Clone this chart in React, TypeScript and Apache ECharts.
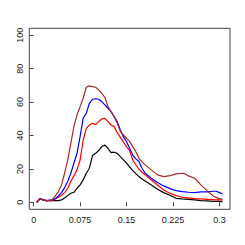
import React, { useEffect, useRef } from "react";
import * as echarts from "echarts";

const xValues = [0.005,0.01,0.015,0.02,0.03,0.035,0.04,0.045,0.05,0.055,0.06,0.065,0.07,0.075,0.08,0.085,0.09,0.095,0.1,0.105,0.11,0.115,0.12,0.125,0.13,0.135,0.14,0.145,0.15,0.155,0.16,0.165,0.17,0.175,0.18,0.19,0.2,0.21,0.22,0.23,0.24,0.245,0.25,0.26,0.27,0.28,0.29,0.295,0.3,0.305];

const blackValues = [0,2,1.4,1,1,1,1,1.4,2.6,4,5.4,6,8.4,10.4,13.4,17.4,20.4,28,29.3,31,33.3,34.3,32.3,29.7,30,29.3,27.3,25.4,23.4,21.2,19,17.2,15.4,14,12.8,10.4,7.8,5.8,4.2,2.4,2,1.9,1.8,1.4,1,0.8,0.6,0.6,0.6,0.4];

const redValues = [0,2,1.6,1,1,2,3,4.2,5.8,8.4,12.4,15.8,19.4,25.3,37.3,44.3,46.3,47.3,46.5,48.3,50,50.3,48.3,46.3,45.3,41.7,38.9,36,33.3,31,25.3,22.5,19.8,18,16.4,13.4,10.4,7.4,5.4,4,3,2.8,2.6,2.2,2,1.8,1.6,1.5,1.4,1.4];

const blueValues = [0,2,1.6,1,1.4,2.2,3.8,5.8,8.8,12.4,17.4,23.4,29.3,39.3,50.3,53.3,59.3,61.7,62,61.7,60.3,58.3,56.3,54.3,51.3,48.3,43.3,39.3,36.3,32.3,28.3,26,24.4,20.4,17.4,14.4,11.8,9.8,8.2,7,6.4,6.2,6,5.8,6.2,6.2,6.6,6.6,5.8,5];

const brownValues = [0,2.4,1.6,1,1.4,3.8,6.4,10.4,17.4,25.3,35.3,45.3,52.3,57.3,62.3,68.9,69.7,69.3,68.9,67.3,65.3,62.9,57.3,54.3,51.3,47.3,42.3,40.3,38.3,36.3,33.3,30.3,26.3,24.2,22.4,19.4,16.4,15.4,16,17,17.4,17,15.8,14.4,10.4,7,3.8,2.8,2.2,1.8];

const xTicks = [0, 0.075, 0.15, 0.225, 0.3];
const yTicks = [0, 20, 40, 60, 80, 100];

const seriesDefs = [
  { name: "black", color: "#000000", values: blackValues },
  { name: "red", color: "#FF0000", values: redValues },
  { name: "blue", color: "#0000FF", values: blueValues },
  { name: "brown", color: "#A52A2A", values: brownValues },
];

export default function App() {
  const ref = useRef<HTMLDivElement>(null);
  useEffect(() => {
    document.body.style.margin = "0";
    if (!ref.current) return;
    const chart = echarts.init(ref.current, undefined, { renderer: "svg" });
    const font = "'Liberation Sans', Arial, Helvetica, sans-serif";
    chart.setOption({
      animation: false,
      grid: {
        left: 29.3,
        top: 28.3,
        right: 15,
        bottom: 35.7,
        show: true,
        borderColor: "#444",
        borderWidth: 1,
      },
      xAxis: {
        type: "value",
        min: -0.007,
        max: 0.317,
        axisLine: { show: false },
        splitLine: { show: false },
        axisTick: { show: true, customValues: xTicks, length: 4, lineStyle: { color: "#444" } },
        axisLabel: {
          customValues: xTicks,
          formatter: (v: number) => String(v),
          fontSize: 9,
          fontFamily: font,
          color: "#222",
          margin: 6,
        },
      },
      yAxis: {
        type: "value",
        min: -4.2,
        max: 104.2,
        axisLine: { show: false },
        splitLine: { show: false },
        axisTick: { show: true, customValues: yTicks, length: 4, lineStyle: { color: "#444" } },
        axisLabel: {
          customValues: yTicks,
          rotate: 90,
          fontSize: 9,
          fontFamily: font,
          color: "#222",
          margin: 5,
        },
      },
      series: seriesDefs.map((s) => ({
        name: s.name,
        type: "line",
        data: xValues.map((x, i) => [x, s.values[i]]),
        showSymbol: false,
        symbol: "none",
        lineStyle: { color: s.color, width: 1.2 },
        itemStyle: { color: s.color },
      })),
    });
    return () => chart.dispose();
  }, []);
  return <div ref={ref} style={{ width: 245, height: 245 }} />;
}
